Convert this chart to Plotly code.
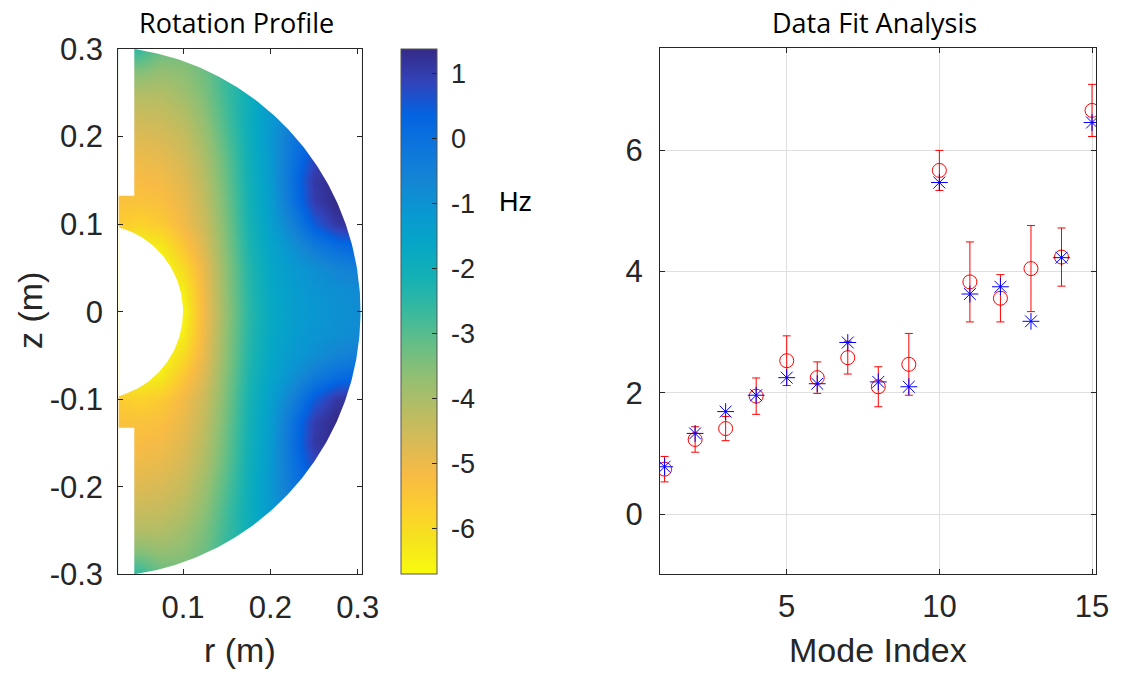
import numpy as np
import plotly.graph_objects as go

# ---------------- rotation profile (upper half, mirrored about z = 0) ----------------
r_grid = [0.0, 0.025, 0.05, 0.075, 0.1, 0.125, 0.15, 0.175, 0.2, 0.225, 0.25, 0.275, 0.3, 0.325]
z_half = [0.0, 0.025, 0.05, 0.075, 0.1, 0.125, 0.15, 0.175, 0.2, 0.225, 0.25, 0.275, 0.3, 0.325]
rot_half = [
    [-6.7, -6.7, -6.7, -6.7, -6.6, -5.0, -3.7, -2.5, -1.75, -1.35, -1.1, -0.95, -0.85, -0.85],
    [-6.7, -6.7, -6.7, -6.7, -6.4, -4.95, -3.65, -2.45, -1.7, -1.3, -1.05, -0.9, -0.8, -0.8],
    [-6.7, -6.7, -6.7, -6.7, -6.0, -4.85, -3.6, -2.4, -1.65, -1.2, -0.9, -0.6, -0.45, -0.45],
    [-6.6, -6.6, -6.5, -6.3, -5.5, -4.65, -3.5, -2.3, -1.55, -0.95, -0.3, 0.1, 0.3, 0.3],
    [-5.6, -5.6, -5.8, -5.6, -5.1, -4.45, -3.4, -2.2, -1.4, -0.5, 0.5, 1.1, 1.3, 1.3],
    [-5.4, -5.4, -5.4, -5.3, -4.95, -4.3, -3.3, -2.15, -1.3, -0.1, 1.0, 1.38, 1.38, 1.38],
    [-5.2, -5.2, -5.2, -5.1, -4.8, -4.15, -3.2, -2.1, -1.25, 0.0, 1.1, 1.35, 1.35, 1.35],
    [-5.0, -5.0, -5.0, -4.9, -4.6, -4.0, -3.1, -2.05, -1.2, -0.1, 0.8, 1.0, 1.0, 1.0],
    [-4.75, -4.75, -4.75, -4.65, -4.4, -3.8, -2.95, -2.0, -1.15, -0.2, 0.2, 0.2, 0.2, 0.2],
    [-4.45, -4.45, -4.45, -4.4, -4.15, -3.6, -2.8, -1.95, -1.2, -0.5, -0.3, -0.3, -0.3, -0.3],
    [-4.1, -4.1, -4.1, -4.1, -3.85, -3.4, -2.7, -2.0, -1.3, -0.9, -0.9, -0.9, -0.9, -0.9],
    [-3.5, -3.5, -3.5, -3.7, -3.6, -3.25, -2.6, -2.0, -1.5, -1.2, -1.2, -1.2, -1.2, -1.2],
    [-2.6, -2.6, -2.6, -3.2, -3.3, -3.1, -2.6, -2.0, -1.5, -1.2, -1.2, -1.2, -1.2, -1.2],
    [-2.6, -2.6, -2.6, -3.2, -3.3, -3.1, -2.6, -2.0, -1.5, -1.2, -1.2, -1.2, -1.2, -1.2],
]
cbar_ticks = [-6, -5, -4, -3, -2, -1, 0, 1]
cbar_labels = ["-6", "-5", "-4", "-3", "-2", "-1", "0", "1"]
r_ticks = [0.1, 0.2, 0.3]
r_labels = ["0.1", "0.2", "0.3"]
z_ticks = [-0.3, -0.2, -0.1, 0.0, 0.1, 0.2, 0.3]
z_labels = ["-0.3", "-0.2", "-0.1", "0", "0.1", "0.2", "0.3"]

# ---------------- mode fit data ----------------
mode_index = list(range(1, 16))
measured = [0.74, 1.23, 1.41, 1.945, 2.53, 2.25, 2.58, 2.10, 2.47, 5.67, 3.83, 3.56, 4.05, 4.24, 6.66]
uncertainty = [0.21, 0.21, 0.20, 0.30, 0.41, 0.26, 0.27, 0.33, 0.51, 0.33, 0.66, 0.39, 0.71, 0.48, 0.43]
fitted = [0.78, 1.33, 1.69, 1.96, 2.25, 2.15, 2.83, 2.18, 2.10, 5.47, 3.63, 3.75, 3.18, 4.23, 6.46]
mode_ticks = [5, 10, 15]
val_ticks = [0, 2, 4, 6]

# ---------------- vessel geometry ----------------
R_HOLE = 0.1
R_WALL = 0.0442
R_NOTCH = 0.026
Z_NOTCH = 0.1325
Z_TOP = 0.3
R_OUT = float(np.hypot(R_WALL, Z_TOP))

# parula colormap, flipped so the most negative rotation is yellow
PARULA = [
    (0.2081, 0.1663, 0.5292), (0.1959, 0.2645, 0.7279), (0.0117, 0.3875, 0.8820),
    (0.0498, 0.4586, 0.8641), (0.0793, 0.5200, 0.8312), (0.0343, 0.5966, 0.8199),
    (0.0228, 0.6535, 0.7768), (0.0843, 0.6928, 0.7062), (0.2178, 0.7250, 0.6193),
    (0.3953, 0.7459, 0.5244), (0.5709, 0.7485, 0.4494), (0.7184, 0.7411, 0.3905),
    (0.8507, 0.7299, 0.3360), (0.9739, 0.7314, 0.2666), (0.9880, 0.8066, 0.1794),
    (0.9589, 0.8949, 0.1132), (0.9763, 0.9831, 0.0538),
]
PARULA_FLIP = PARULA[::-1]
parula_scale = [
    [i / (len(PARULA_FLIP) - 1), "rgb({:d},{:d},{:d})".format(*(int(round(c * 255)) for c in rgb))]
    for i, rgb in enumerate(PARULA_FLIP)
]

AX = "#262626"
FONT = "Liberation Sans, Arial, sans-serif"
TITLE_FONT = "Open Sans, Noto Sans, sans-serif"
W, H = 1121, 675
NBSP = "\u00a0"

# full z grid from the mirrored half
rot_half = np.array(rot_half)
z_full = [-z for z in z_half[:0:-1]] + z_half
rot_full = np.vstack([rot_half[:0:-1], rot_half])

fig = go.Figure()

fig.add_trace(go.Heatmap(
    x=r_grid, y=z_full, z=rot_full,
    zsmooth="best", colorscale=parula_scale, zmin=-6.704, zmax=1.385,
    hoverinfo="skip",
    colorbar=dict(
        x=400.7 / W, xanchor="left", y=1 - 311.5 / H, yanchor="middle",
        len=525 / H, lenmode="fraction", thickness=36, xpad=0, ypad=0,
        outlinewidth=1, outlinecolor="#555555",
        tickvals=cbar_ticks, ticktext=[NBSP + t for t in cbar_labels],
        ticks="inside", ticklen=5, tickwidth=1, tickcolor=AX,
        tickfont=dict(family=FONT, size=27, color=AX),
    ),
    xaxis="x", yaxis="y",
))

# white mask outside the vessel cross-section (box with the domain cut out)
a_h = np.arctan2(np.sqrt(R_HOLE**2 - R_NOTCH**2), R_NOTCH)
a_o = np.arctan2(Z_TOP, R_WALL)
t_h_down = np.linspace(0, -a_h, 60)
t_o = np.linspace(-a_o, a_o, 240)
t_h_up = np.linspace(a_h, 0, 60)
mask_r = ([-0.1, -0.1, 0.5, 0.5, -0.1, -0.1]
          + list(R_HOLE * np.cos(t_h_down))
          + [R_NOTCH, R_WALL, R_WALL]
          + list(R_OUT * np.cos(t_o))
          + [R_WALL, R_WALL, R_NOTCH]
          + list(R_HOLE * np.cos(t_h_up))
          + [-0.1])
mask_z = ([0, 0.5, 0.5, -0.5, -0.5, 0]
          + list(R_HOLE * np.sin(t_h_down))
          + [-Z_NOTCH, -Z_NOTCH, -Z_TOP]
          + list(R_OUT * np.sin(t_o))
          + [Z_TOP, Z_NOTCH, Z_NOTCH]
          + list(R_HOLE * np.sin(t_h_up))
          + [0])
fig.add_trace(go.Scatter(
    x=mask_r, y=mask_z, mode="lines", fill="toself", fillcolor="white",
    line=dict(width=0, color="white"), hoverinfo="skip", showlegend=False,
    xaxis="x", yaxis="y",
))

# measured values with error bars
fig.add_trace(go.Scatter(
    x=mode_index, y=measured, mode="markers",
    marker=dict(symbol="circle-open", size=14, color="red", line=dict(width=1, color="red")),
    error_y=dict(type="data", array=uncertainty, visible=True, color="red", thickness=1, width=4),
    showlegend=False, hoverinfo="skip", xaxis="x2", yaxis="y2",
))
# model fit
fig.add_trace(go.Scatter(
    x=mode_index, y=fitted, mode="markers",
    marker=dict(symbol="asterisk-open", size=14, color="blue", line=dict(width=1, color="blue")),
    showlegend=False, hoverinfo="skip", xaxis="x2", yaxis="y2",
))

axis_common = dict(
    ticks="inside", ticklen=5, tickwidth=1, tickcolor=AX,
    showline=True, linecolor=AX, linewidth=1, mirror="allticks",
    zeroline=False, tickfont=dict(family=FONT, size=31, color=AX),
    fixedrange=True, automargin=False,
)

fig.update_layout(
    template="none",
    width=W, height=H,
    margin=dict(l=0, r=0, t=0, b=0, pad=0, autoexpand=False),
    paper_bgcolor="white", plot_bgcolor="white",
    showlegend=False,
    xaxis=dict(domain=[118.3 / W, 361.7 / W], range=[0.0259, 0.3046],
               tickvals=r_ticks, ticktext=r_labels, showgrid=False,
               ticklabelstandoff=5, anchor="y", **axis_common),
    yaxis=dict(domain=[1 - 574.3 / H, 1 - 49 / H], range=[-0.3, 0.3],
               tickvals=z_ticks, ticktext=z_labels, showgrid=False,
               ticklabelstandoff=8, anchor="x", **axis_common),
    xaxis2=dict(domain=[660 / W, 1096 / W], range=[0.85, 15.13],
                tickvals=mode_ticks, showgrid=True, gridcolor="#dfdfdf", gridwidth=1,
                ticklabelstandoff=5, anchor="y2", **axis_common),
    yaxis2=dict(domain=[1 - 574 / H, 1 - 48 / H], range=[-0.99, 7.69],
                tickvals=val_ticks, showgrid=True, gridcolor="#dfdfdf", gridwidth=1,
                ticklabelstandoff=10, anchor="x2", **axis_common),
)

annotations = [
    dict(text="Rotation Profile", x=236.7 / W, y=1 - 23 / H, font=dict(family=TITLE_FONT, size=27, color="black")),
    dict(text="Data Fit Analysis", x=874 / W, y=1 - 23 / H, font=dict(family=TITLE_FONT, size=27, color="black")),
    dict(text="r (m)", x=240 / W, y=1 - 650 / H, font=dict(family=FONT, size=34, color=AX)),
    dict(text="Mode Index", x=878 / W, y=1 - 650 / H, font=dict(family=FONT, size=34, color=AX)),
    dict(text="z (m)", x=30 / W, y=1 - 311 / H, textangle=-90, font=dict(family=FONT, size=34, color=AX)),
    dict(text="Hz", x=515 / W, y=1 - 202 / H, font=dict(family=FONT, size=27, color="black")),
]
for a in annotations:
    a.update(xref="paper", yref="paper", xanchor="center", yanchor="middle", showarrow=False)
fig.update_layout(annotations=annotations)

fig.write_html("out.html")
